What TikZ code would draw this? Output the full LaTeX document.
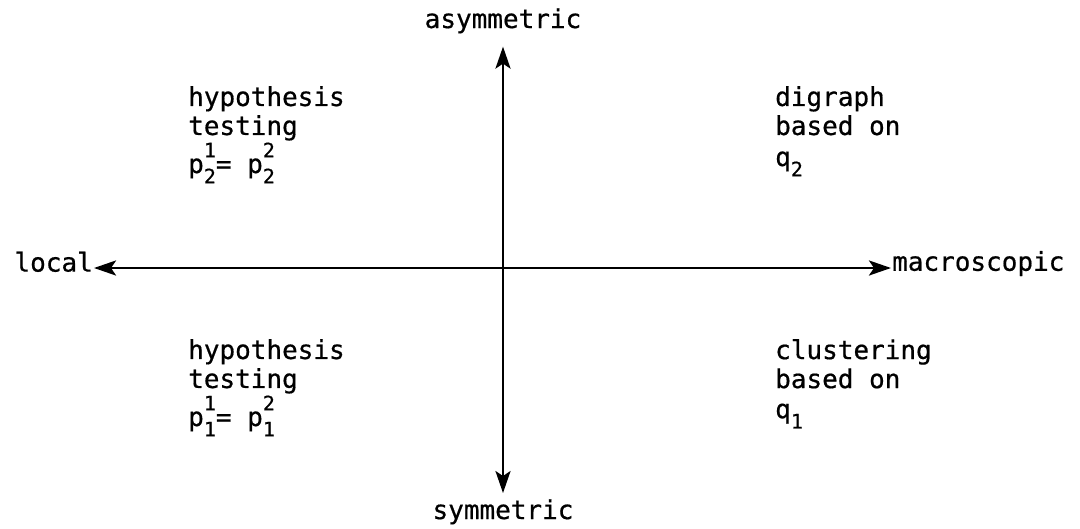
\documentclass[tikz,border=0pt]{standalone}
\usepackage{fontspec}
\setmonofont[FakeBold=0.6]{DejaVu Sans Mono}
\usetikzlibrary{arrows.meta}
\newcommand{\scr}[1]{{\fontsize{20}{20}\selectfont #1}}
\newcommand{\ppair}[2]{p\makebox[0pt][l]{\raisebox{0.6em}{\scr{#1}}}\raisebox{-0.4em}{\scr{#2}}}
\newcommand{\qsub}[1]{q\raisebox{-0.4em}{\scr{#1}}}
\tikzset{
  lbl/.style={font=\ttfamily\fontsize{26}{29}\selectfont, inner sep=1pt},
  quad/.style={lbl, align=left, anchor=north west, inner sep=0pt},
  axis/.style={line width=2.8pt, {Stealth[length=22pt,width=15pt,inset=5pt]}-{Stealth[length=22pt,width=15pt,inset=5pt]}}
}
\begin{document}
\begin{tikzpicture}[x=1pt,y=-1pt]
\useasboundingbox (0,0) rectangle (1080,528);
\node[lbl, anchor=base] (asym) at (503,28) {asymmetric};
\node[lbl, anchor=base] (sym) at (503,519) {symmetric};
\node[lbl, anchor=east, text height=0.72em, text depth=0pt] (local) at (94,268) {local};
\node[lbl, anchor=west, text height=0.55em, text depth=0pt] (macro) at (891,268) {macroscopic};
\draw[axis, shorten <=12pt, shorten >=5pt] (asym) -- (sym);
\draw[axis] (local) -- (macro);
\node[quad] (ul) at (188,86) {hypothesis\\testing\\[1pt]\ppair{1}{2}= \ppair{2}{2}};
\node[quad] (ur) at (775,86) {digraph\\based on\\[2pt]\qsub{2}};
\node[quad] (ll) at (188,339) {hypothesis\\testing\\[1pt]\ppair{1}{1}= \ppair{2}{1}};
\node[quad] (lr) at (775,339) {clustering\\based on\\[1pt]\qsub{1}};
\end{tikzpicture}
\end{document}
